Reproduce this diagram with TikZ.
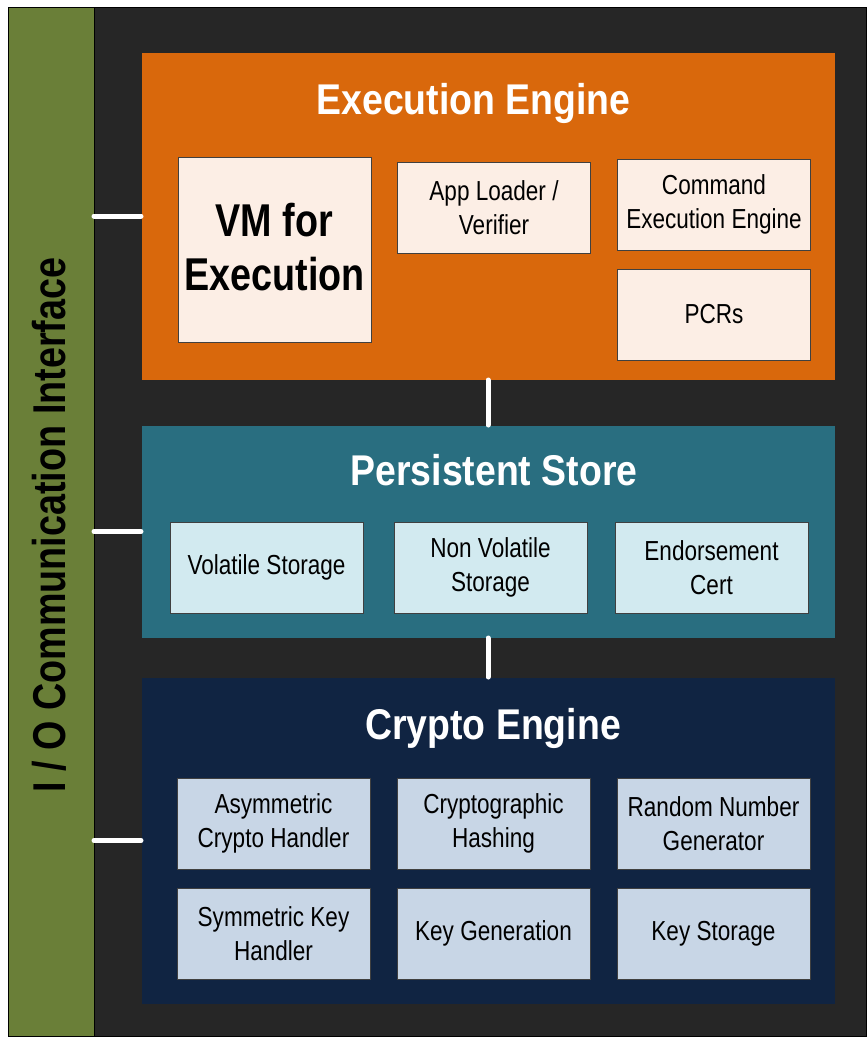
\documentclass[tikz,border=0pt]{standalone}
\usepackage{fontspec}
\setmainfont[FakeStretch=0.82]{Liberation Sans}
\newfontfamily\headfont[FakeStretch=0.87]{Liberation Sans}
\usepackage{tikz}
\usetikzlibrary{positioning}
\definecolor{framedark}{RGB}{38,38,38}
\definecolor{iogreen}{RGB}{106,127,56}
\definecolor{execorange}{RGB}{217,104,12}
\definecolor{execpale}{RGB}{252,238,229}
\definecolor{storeteal}{RGB}{41,110,128}
\definecolor{storepale}{RGB}{210,234,240}
\definecolor{cryptonavy}{RGB}{16,36,66}
\definecolor{cryptopale}{RGB}{200,214,230}

\begin{document}
\begin{tikzpicture}[x=1pt, y=-1pt,
  panel/.style={draw=black!85, line width=1pt, inner sep=0pt, outer sep=0pt, minimum width=694pt, anchor=north west},
  unit/.style={draw=black!75, line width=0.8pt, inner sep=0pt, outer sep=0pt, minimum width=193pt, minimum height=91pt,
    align=center, font=\fontsize{27.5}{33.5}\selectfont},
  head/.style={text=white, anchor=base, font=\headfont\bfseries\fontsize{43}{50}\selectfont},
  link/.style={draw=white, line width=5pt, line cap=round}]
\useasboundingbox (0,0) rectangle (868,1037);
\draw[fill=framedark, draw=black, line width=1pt] (8,7) rectangle (866,1036);

% I/O bar on the left
\node[draw=black, line width=1pt, fill=iogreen, inner sep=0pt, outer sep=0pt, minimum width=86pt, minimum height=1029pt, anchor=north west] (io) at (8,7) {};
\node[rotate=90, anchor=base, font=\bfseries\fontsize{46}{54}\selectfont] (iolabel) at (65,525) {I / O Communication Interface};

% three engine blocks
\node[panel, fill=execorange, minimum height=328pt] (exec) at (141,52) {};
\node[panel, fill=storeteal, minimum height=213pt] (store) at (141,425) {};
\node[panel, fill=cryptonavy, minimum height=327pt] (crypto) at (141,677) {};
\node[head] (exectitle) at (473.5,114) {Execution Engine};
\node[head] (storetitle) at (494,485) {Persistent Store};
\node[head] (cryptotitle) at (493,739) {Crypto Engine};

% execution engine
\node[unit, fill=execpale, minimum height=185pt, text depth=6pt, font=\bfseries\fontsize{46}{54}\selectfont] (vm) at (274.5,249.5) {VM for\\Execution};
\node[unit, fill=execpale] (loader) at (494,207.5) {App Loader /\\Verifier};
\node[unit, fill=execpale] (cmd) at (714,204.5) {Command\\Execution Engine};
\node[unit, fill=execpale, below=19pt of cmd] (pcr) {PCRs};

% persistent store
\node[unit, fill=storepale] (vol) at (266.5,567.5) {Volatile Storage};
\node[unit, fill=storepale, right=31pt of vol] (nonvol) {Non Volatile\\Storage};
\node[unit, fill=storepale, right=28pt of nonvol] (cert) {Endorsement\\Cert};

% crypto engine
\node[unit, fill=cryptopale] (asym) at (273.5,823.5) {Asymmetric\\Crypto Handler};
\node[unit, fill=cryptopale, right=27pt of asym] (hash) {Cryptographic\\Hashing};
\node[unit, fill=cryptopale, right=27pt of hash] (rng) {Random Number\\Generator};
\node[unit, fill=cryptopale, below=19pt of asym] (sym) {Symmetric Key\\Handler};
\node[unit, fill=cryptopale, below=19pt of hash] (keygen) {Key Generation};
\node[unit, fill=cryptopale, below=19pt of rng] (keystore) {Key Storage};

% links
\draw[link] (io.east |- exec.west) -- (exec.west);
\draw[link] (io.east |- store.west) -- (store.west);
\draw[link] (io.east |- crypto.west) -- (crypto.west);
\draw[link] (exec.south) -- (store.north);
\draw[link] (store.south) -- (crypto.north);
\end{tikzpicture}
\end{document}
